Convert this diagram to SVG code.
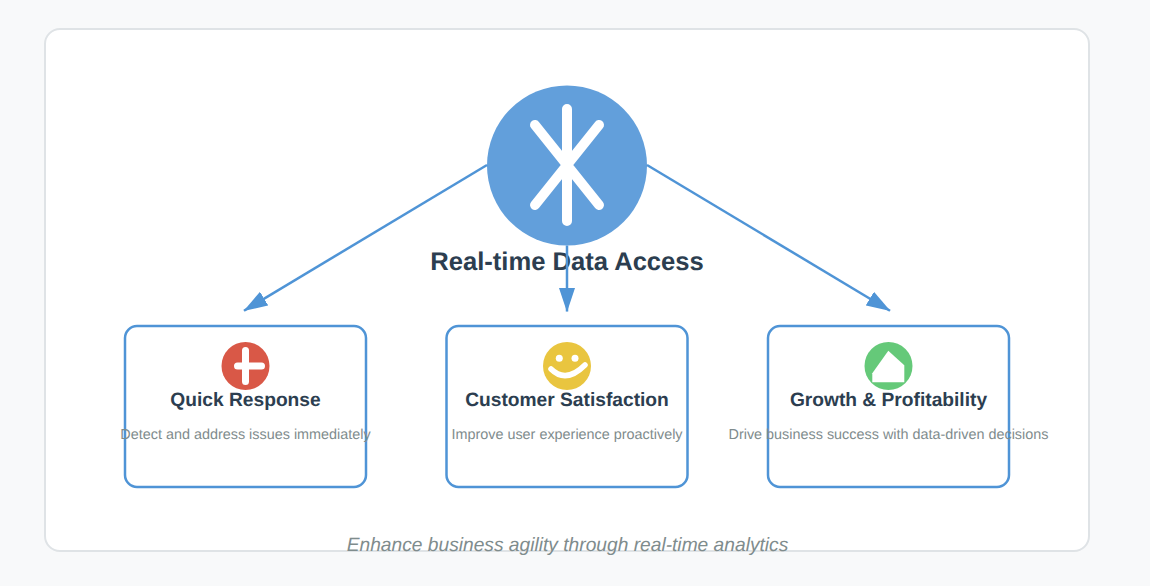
<svg xmlns="http://www.w3.org/2000/svg" width="1150" height="586" viewBox="0 0 1150 586">
<style>
text{font-family:"Liberation Sans",Arial,sans-serif;text-anchor:middle;text-rendering:geometricPrecision}
.box{fill:#fff;stroke:#4f94d6;stroke-width:2.5}
.conn{fill:none;stroke:#4f94d6;stroke-width:2.5;marker-end:url(#arrow)}
.t{font-size:19.2px;font-weight:700;fill:#2c3e50}
.d{font-size:14.4px;fill:#7f8c8d}
.g{fill:none;stroke:#fff;stroke-linecap:round}
</style>
<defs>
<marker id="arrow" markerUnits="userSpaceOnUse" markerWidth="24" markerHeight="16" refX="23.5" refY="8" orient="auto">
<path d="M0 0L24 8L0 16Z" fill="#4f94d6"/>
</marker>
</defs>
<rect x="0" y="0" width="1150" height="586" fill="#f8f9fa"/>
<rect id="panel" x="45" y="29" width="1044" height="522" rx="15" fill="#fff" stroke="#dfe3e6" stroke-width="2"/>
<g id="box-nodes">
<g id="node-quick"><rect class="box" x="125" y="326" width="241" height="161" rx="12"/></g>
<g id="node-customer"><rect class="box" x="446.500" y="326" width="241" height="161" rx="12"/></g>
<g id="node-growth"><rect class="box" x="768" y="326" width="241" height="161" rx="12"/></g>
</g>
<g id="node-main">
<circle cx="567" cy="165.500" r="80" fill="#629fdb"/>
<path class="g" stroke-width="10" d="M567 109V221M535 125L599 205M599 125L535 205"/>
<text x="567" y="270" font-size="25.6" font-weight="700" fill="#2c3e50">Real-time Data Access</text>
</g>
<g id="connectors">
<path class="conn" d="M487 165L244 310.700"/>
<path class="conn" d="M567 245.500V311.500"/>
<path class="conn" d="M647 165L890 310.700"/>
</g>
<g id="content-quick">
<circle cx="245.500" cy="366" r="24" fill="#d95847"/>
<path class="g" stroke-width="7" d="M245.500 350.500V381.500M237.500 366H261.500"/>
<text class="t" x="245.500" y="406">Quick Response</text>
<text class="d" x="245.500" y="439">Detect and address issues immediately</text>
</g>
<g id="content-customer">
<circle cx="567" cy="366" r="24" fill="#e9c53f"/>
<circle cx="559.300" cy="358.300" r="3.500" fill="#fff"/>
<circle cx="575" cy="358.300" r="3.500" fill="#fff"/>
<path class="g" stroke-width="5.500" d="M551 369Q566 384 585 365"/>
<text class="t" x="567" y="406">Customer Satisfaction</text>
<text class="d" x="567" y="439">Improve user experience proactively</text>
</g>
<g id="content-growth">
<circle cx="888.500" cy="366" r="24" fill="#65c979"/>
<path d="M888.300 350.700L904.300 365.300V382.300H872.300V373.300Z" fill="#fff"/>
<text class="t" x="888.500" y="406">Growth &amp; Profitability</text>
<text class="d" x="888.500" y="439">Drive business success with data-driven decisions</text>
</g>
<text id="footer" x="567.500" y="551" font-size="19.2" font-style="italic" fill="#7f8c8d">Enhance business agility through real-time analytics</text>
</svg>
